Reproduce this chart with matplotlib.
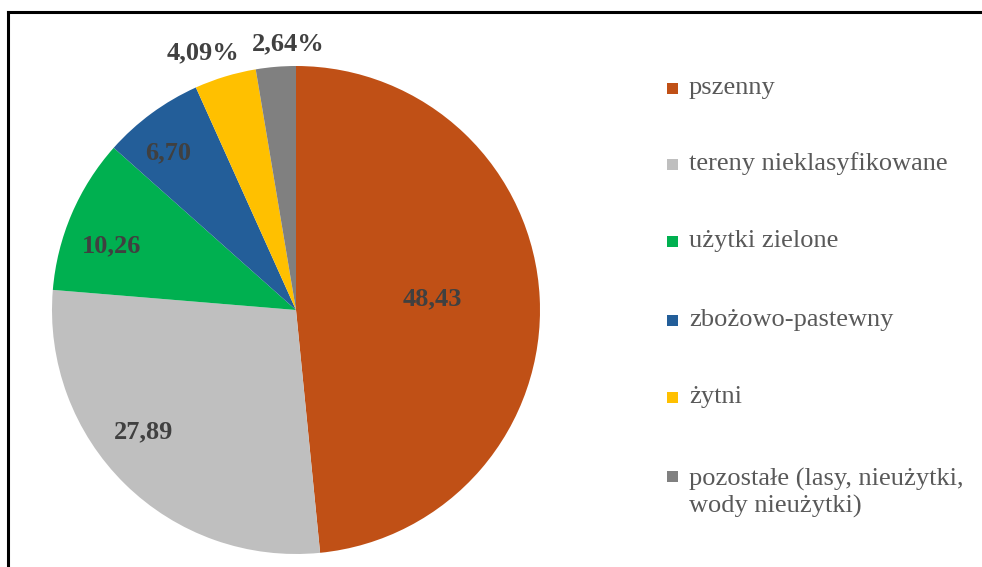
import matplotlib
matplotlib.use("Agg")
import matplotlib.pyplot as plt
from matplotlib.patches import Rectangle
from matplotlib.lines import Line2D
import numpy as np

categories = ["pszenny", "tereny nieklasyfikowane", "użytki zielone",
              "zbożowo-pastewny", "żytni", "pozostałe (lasy, nieużytki,\nwody nieużytki)"]
values = [48.43, 27.89, 10.26, 6.70, 4.09, 2.64]
value_labels = ["48,43", "27,89", "10,26", "6,70", "4,09%", "2,64%"]
colors = ["#C05016", "#BFBFBF", "#00B050", "#235E99", "#FFC000", "#808080"]

# label placement (polar, in pie radius units, angle offset in degrees)
label_r = [0.56, 0.80, 0.80, 0.83, 1.12, 1.09]
label_dang = [2.0, -7.0, 4.0, 3.0, 3.0, -3.0]

W, H = 982, 567
fig = plt.figure(figsize=(W / 100, H / 100), dpi=100)
fig.patch.set_facecolor("white")

serif = ["Liberation Serif", "DejaVu Serif"]

# frame lines (top and left)
fig.add_artist(Line2D([8 / W, 1.0], [1 - 12 / H, 1 - 12 / H], transform=fig.transFigure,
                      color="black", lw=2.2))
fig.add_artist(Line2D([8 / W, 8 / W], [0, 1 - 12 / H], transform=fig.transFigure,
                      color="black", lw=2.2))

cx, cy, R = 296, 310, 244
ax = fig.add_axes([(cx - R) / W, (H - cy - R) / H, 2 * R / W, 2 * R / H])
wedges, _ = ax.pie(values, colors=colors, startangle=90, counterclock=False,
                   radius=1.0, wedgeprops=dict(linewidth=0))
ax.set_xlim(-1, 1)
ax.set_ylim(-1, 1)
ax.set_aspect("equal")
ax.axis("off")

for w, lab, r, da in zip(wedges, value_labels, label_r, label_dang):
    mid = np.deg2rad((w.theta1 + w.theta2) / 2 + da)
    ax.text(r * np.cos(mid), r * np.sin(mid), lab, ha="center", va="center",
            fontsize=19, fontweight="bold", color="#404040", family=serif,
            clip_on=False)

# legend
leg_y = [88, 164, 241, 320, 397, 476]
for cat, col, y in zip(categories, colors, leg_y):
    fig.add_artist(Rectangle(((667) / W, 1 - (y + 6) / H), 11 / W, 11 / H,
                             transform=fig.transFigure, facecolor=col, edgecolor="none"))
    if "\n" in cat:
        fig.text(689 / W, 1 - (y - 8) / H, cat, ha="left", va="top",
                 fontsize=19, color="#595959", family=serif, linespacing=1.2)
    else:
        fig.text(689 / W, 1 - y / H, cat, ha="left", va="center",
                 fontsize=19, color="#595959", family=serif)

fig.savefig("out.png", dpi=100)
